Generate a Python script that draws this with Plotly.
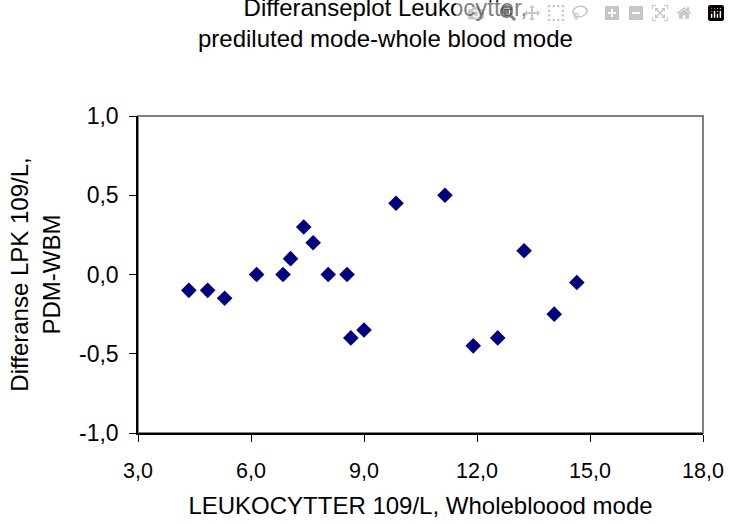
import plotly.graph_objects as go

# Leukocytter: whole blood mode vs difference prediluted - whole blood
wbm_values = [4.35, 4.85, 5.3, 6.15, 6.85, 7.05, 7.4, 7.65, 8.05, 8.55, 8.65, 9.0,
              9.85, 11.15, 11.9, 12.55, 13.25, 14.05, 14.65]
diff_values = [-0.1, -0.1, -0.15, 0.0, 0.0, 0.1, 0.3, 0.2, 0.0, 0.0, -0.4, -0.35,
               0.45, 0.5, -0.45, -0.4, 0.15, -0.25, -0.05]

x_ticks = [3, 6, 9, 12, 15, 18]
y_ticks = [-1.0, -0.5, 0.0, 0.5, 1.0]

FONT = "Liberation Sans, Arial, sans-serif"


def comma(v):
    # Norwegian style labels with a plain hyphen as minus sign
    return f"{v:.1f}".replace(".", ",")


fig = go.Figure()
fig.add_trace(go.Scatter(
    x=wbm_values, y=diff_values, mode="markers",
    marker=dict(symbol="diamond", size=12, color="#000080"),
    showlegend=False,
))

# gray frame on top/right like the original
fig.add_shape(type="rect", xref="paper", yref="paper", x0=0, y0=0, x1=1, y1=1,
              line=dict(color="#808080", width=2), layer="below")

fig.update_layout(
    width=730, height=524,
    margin=dict(l=138, r=27, t=116, b=91),
    paper_bgcolor="white", plot_bgcolor="white",
    font=dict(family=FONT, size=24, color="black"),
    title=dict(text="Differanseplot Leukocytter,<br>prediluted mode-whole blood mode",
               x=0.528, xanchor="center", y=0.97, yanchor="top",
               font=dict(family=FONT, size=24, color="black")),
    xaxis=dict(range=[3, 18], tickvals=x_ticks, ticktext=[comma(v) for v in x_ticks],
               showgrid=False, zeroline=False, showline=True, linecolor="black",
               linewidth=1.5, ticks="outside", ticklen=7, tickcolor="black",
               ticklabelstandoff=10, tickfont=dict(family=FONT, size=21.5),
               ticklabeloverflow="allow", automargin=False,
               title=dict(text="LEUKOCYTTER 109/L, Wholebloood mode", standoff=16,
                          font=dict(family=FONT, size=24))),
    yaxis=dict(range=[-1, 1], tickvals=y_ticks, ticktext=[comma(v) for v in y_ticks],
               showgrid=False, zeroline=False, showline=True, linecolor="black",
               linewidth=1.5, ticks="outside", ticklen=7, tickcolor="black",
               ticklabelstandoff=6, tickfont=dict(family=FONT, size=23),
               automargin=False,
               title=dict(text="Differanse LPK 109/L,<br>PDM-WBM", standoff=12,
                          font=dict(family=FONT, size=24))),
)

# drop the browser's default 8px body margin so the figure fills the window
fig.write_html("out.html",
               post_script="document.body.style.margin='0';"
                           "document.body.style.overflow='hidden';")
